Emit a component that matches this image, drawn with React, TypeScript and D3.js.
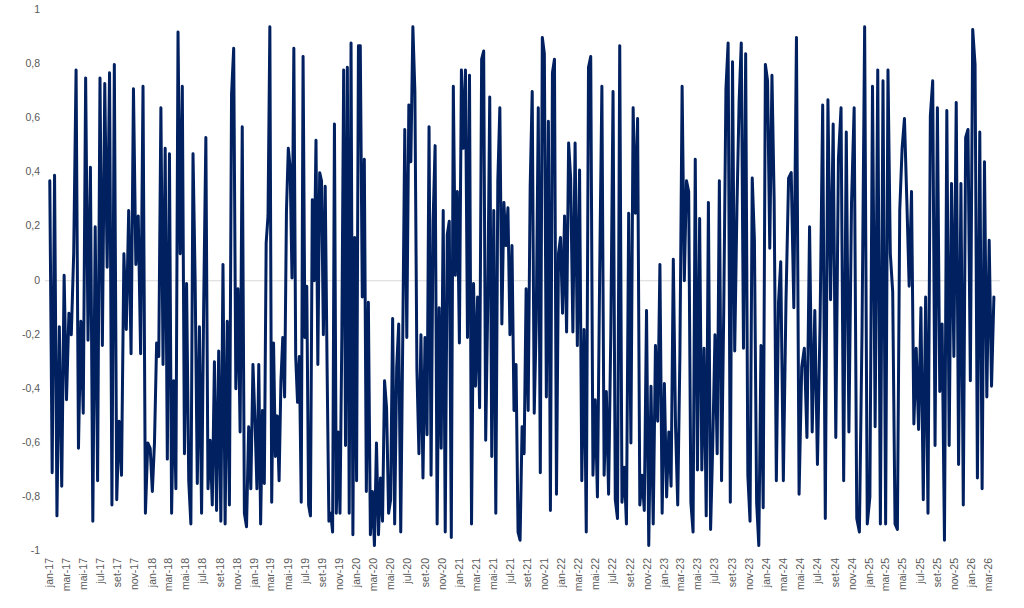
import * as d3 from "d3";

const WIDTH = 1024;
const HEIGHT = 608;
// plot bounds, taken from the axis positions of the original
const X_START = 49.5;
const X_END = 988;
const Y_TOP = 10.5;
const Y_BOTTOM = 551;

const MONTHS_PT = ["jan", "fev", "mar", "abr", "mai", "jun", "jul", "ago", "set", "out", "nov", "dez"];
const Y_TICKS = [1, 0.8, 0.6, 0.4, 0.2, 0, -0.2, -0.4, -0.6, -0.8, -1];

// first and last label of the date axis
const AXIS_FROM = "2017-01-01";
const AXIS_TO = "2026-03-01";

// the series is read in stretches; each stretch runs between two of these dates
const SEGMENT_BOUNDS = [
  "2017-01-02", "2017-12-26", "2019-01-04", "2020-01-14", "2021-01-23",
  "2022-02-02", "2023-02-11", "2024-02-21", "2025-03-01", "2026-03-22",
];

const seg2017 = [
  0.37, -0.71, 0.39, -0.87, -0.17, -0.76, 0.02, -0.44, -0.12, -0.2, 0.1, 0.78, -0.62, -0.15, -0.49,
  0.75, -0.22, 0.42, -0.89, 0.2, -0.74, 0.75, -0.24, 0.73, 0.05, 0.77, -0.83, 0.8, -0.81, -0.52,
  -0.72, 0.1, -0.18, 0.26, -0.27, 0.71, 0.06, 0.24, -0.27, 0.72, -0.86, -0.6,
];
const seg2018 = [
  -0.62, -0.78, -0.6, -0.23, -0.28, 0.64, -0.31, 0.49, -0.66, 0.47, -0.86, -0.37, -0.77, 0.92, 0.1,
  0.72, -0.64, -0.01, -0.74, -0.9, 0.47, 0, -0.75, -0.17, -0.86, -0.08, 0.53, -0.77, -0.59, -0.83,
  -0.3, -0.85, -0.26, -0.89, 0.06, -0.9, -0.15, -0.83, 0.69, 0.86, -0.4, -0.03, -0.56, 0.57, -0.86,
  -0.91, -0.54, -0.77, -0.31,
];
const seg2019 = [
  -0.53, -0.77, -0.31, -0.9, -0.48, -0.75, 0.14, 0.24, 0.94, -0.82, -0.23, -0.65, -0.5, -0.74, -0.37,
  -0.21, -0.43, 0.26, 0.49, 0.42, 0.01, 0.86, -0.28, -0.45, -0.28, -0.82, 0.83, -0.21, -0.02, -0.83,
  -0.87, 0.3, 0, 0.52, -0.31, 0.4, 0.37, -0.2, 0.35, -0.31, -0.89, -0.86, -0.93, 0.58, -0.86, -0.56,
  -0.86, -0.21, 0.78, -0.61, 0.79, -0.86, 0.88, -0.94, 0.16, -0.74, 0.87,
];
const seg2020 = [
  0.87, -0.06, 0.45, -0.78, -0.08, -0.94, -0.78, -0.98, -0.6, -0.94, -0.73, -0.89, -0.37, -0.47, -0.86,
  -0.81, -0.14, -0.9, -0.32, -0.16, -0.93, -0.21, 0.56, -0.21, 0.65, 0.44, 0.94, 0.7, -0.33, -0.64,
  -0.2, -0.73, -0.21, -0.57, 0.57, -0.72, 0.22, 0.5, -0.9, -0.1, -0.62, 0.26, -0.93, 0.17, 0.22,
  -0.95, 0.72, 0.02, 0.33, -0.23, 0.78, 0.49,
];
const seg2021 = [
  0.78, -0.21, 0.76, -0.9, -0.01, -0.39, -0.06, -0.47, 0.82, 0.85, -0.59, -0.1, 0.68, -0.65, 0.26,
  -0.86, 0.37, 0.64, -0.16, 0.29, 0.13, 0.27, -0.2, 0.13, -0.48, -0.31, -0.93, -0.96, -0.54, -0.64,
  -0.03, -0.48, 0.35, 0.7, -0.49, -0.15, 0.64, -0.71, 0.9, 0.84, -0.43, 0.59, -0.85, 0.77, 0.82,
  -0.79, 0.1, 0.16, -0.12, 0.24, -0.19, 0.51,
];
const seg2022 = [
  0.38, -0.19, 0.51, -0.24, 0.41, -0.74, -0.18, -0.93, 0.79, 0.83, -0.72, -0.44, -0.8, 0.02, 0.72,
  -0.72, -0.41, -0.79, -0.19, 0.7, -0.81, -0.88, 0.87, -0.82, -0.69, -0.9, 0.25, -0.6, 0.64, 0.25,
  0.6, -0.83, -0.72, -0.85, -0.11, -0.98, -0.39, -0.9, -0.24, -0.52, 0.06, -0.86, -0.38, -0.8, -0.56,
  -0.76, 0.08,
];
const seg2023 = [
  -0.54, -0.83, -0.27, 0.72, 0.0, 0.37, 0.33, -0.82, -0.93, 0.45, -0.7, 0.23, -0.7, -0.25, -0.87,
  0.29, -0.92, -0.6, -0.2, -0.64, 0.37, -0.74, -0.11, 0.71, 0.88, -0.82, 0.81, -0.26, 0.26, 0.66,
  0.88, -0.25, 0.84, -0.72, -0.89, 0.38, 0.15, -0.82, -0.98, -0.24, -0.84, 0.8, 0.74, 0.12, 0.76,
  0.3, -0.74, -0.08,
];
const seg2024 = [
  0.07, -0.74, -0.08, 0.38, 0.4, -0.1, 0.9, -0.79, -0.32, -0.25, -0.58, 0.2, -0.56, -0.11, -0.68,
  -0.16, 0.65, -0.88, 0.67, -0.07, 0.58, -0.58, 0.45, 0.64, -0.74, 0.55, -0.56, 0.29, 0.64, -0.88,
  -0.93, -0.19, 0.94, -0.9, -0.8, 0.72, -0.54, 0.78, -0.9, 0.74,
];
const seg2025 = [
  -0.9, 0.78, 0.1, -0.04, -0.9, -0.92, 0.26, 0.49, 0.6, 0.3, -0.02, 0.33, -0.53, -0.25, -0.55,
  -0.1, -0.81, -0.06, -0.86, 0.61, 0.74, -0.61, 0.64, -0.41, -0.16, -0.96, 0.63, -0.61, 0.36, -0.28,
  0.66, -0.68, 0.36, -0.83, 0.53, 0.56, -0.37, 0.93, 0.8, -0.73, 0.55, -0.77, 0.44, -0.43, 0.15,
  -0.39, -0.06,
];

const SEGMENTS = [seg2017, seg2018, seg2019, seg2020, seg2021, seg2022, seg2023, seg2024, seg2025];

type Point = { date: Date; value: number };

const parseDate = d3.timeParse("%Y-%m-%d");

const data: Point[] = SEGMENTS.flatMap((values, k) => {
  const t0 = parseDate(SEGMENT_BOUNDS[k])!.getTime();
  const t1 = parseDate(SEGMENT_BOUNDS[k + 1])!.getTime();
  const last = k === SEGMENTS.length - 1;
  // readings are spread evenly over their stretch
  const step = d3
    .scaleLinear()
    .domain([0, last ? values.length - 1 : values.length])
    .range([t0, t1]);
  return values.map((v, i) => ({ date: new Date(step(i)), value: v }));
});

const formatTick = (v: number) =>
  Number.isInteger(v) ? String(v) : v.toFixed(1).replace(".", ",");

const formatMonth = (d: Date) =>
  `${MONTHS_PT[d.getMonth()]}-${String(d.getFullYear()).slice(2)}`;

export default function App() {
  const xScale = d3
    .scaleTime()
    .domain([parseDate(AXIS_FROM)!, parseDate(AXIS_TO)!])
    .range([X_START, X_END]);

  const yScale = d3.scaleLinear().domain([-1, 1]).range([Y_BOTTOM, Y_TOP]);

  const xTicks = d3.timeMonth.range(
    parseDate(AXIS_FROM)!,
    d3.timeDay.offset(parseDate(AXIS_TO)!, 1),
    2
  );

  const linePath = d3
    .line<Point>()
    .x((d) => xScale(d.date))
    .y((d) => yScale(d.value))(data);

  const font = "'Liberation Sans', Arial, sans-serif";

  return (
    <svg
      width={WIDTH}
      height={HEIGHT}
      style={{ position: "absolute", left: 0, top: 0, background: "#fff" }}
    >
      {/* category axis crossing at zero */}
      <line
        x1={45}
        x2={1000}
        y1={yScale(0)}
        y2={yScale(0)}
        stroke="#d9d9d9"
        strokeWidth={1}
      />

      {Y_TICKS.map((t) => (
        <text
          key={t}
          x={40}
          y={yScale(t)}
          textAnchor="end"
          dominantBaseline="middle"
          fontSize={10.5}
          fontFamily={font}
          fill="#595959"
        >
          {formatTick(t)}
        </text>
      ))}

      {xTicks.map((d, i) => (
        <text
          key={i}
          transform={`translate(${xScale(d)},558) rotate(-90)`}
          textAnchor="end"
          dy="0.35em"
          fontSize={10.5}
          fontFamily={font}
          fill="#595959"
        >
          {formatMonth(d)}
        </text>
      ))}

      <path
        d={linePath ?? ""}
        fill="none"
        stroke="#002060"
        strokeWidth={3}
        strokeLinejoin="round"
        strokeLinecap="round"
      />
    </svg>
  );
}
